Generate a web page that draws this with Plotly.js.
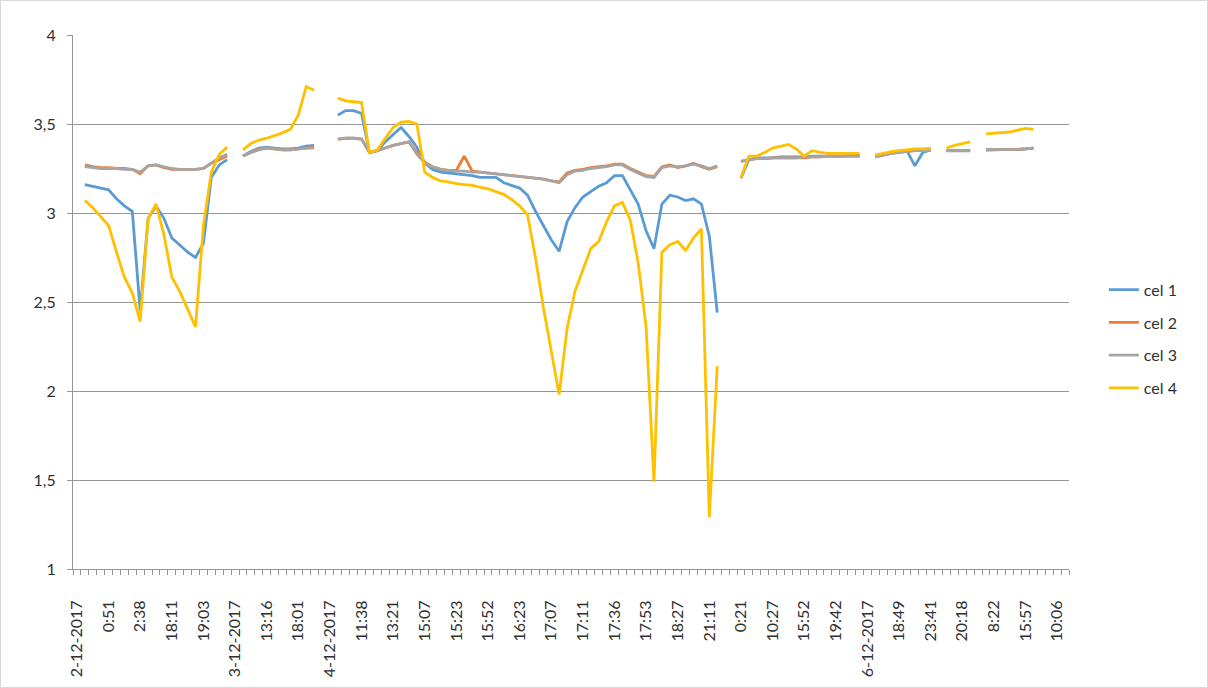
<!DOCTYPE html>
<html>
<head>
<meta charset="utf-8">
<script src="https://cdn.plot.ly/plotly-3.0.1.min.js"></script>
<style>
  html, body { margin:0; padding:0; background:#fff; }
  #wrap { position:relative; width:1208px; height:688px; }
  #chart { width:1208px; height:688px; }
  #frame { position:absolute; left:0; top:0; width:1208px; height:688px; box-sizing:border-box; border:1px solid #d9d9d9; pointer-events:none; }
</style>
</head>
<body>
<div id="wrap"><div id="chart"></div><div id="frame"></div></div>
<script>
// x-axis tick labels (every 4th row of the sheet)
const tickLabels = ['2-12-2017','0:51','2:38','18:11','19:03','3-12-2017','13:16','18:01','4-12-2017','11:38','13:21','15:07','15:23','15:52','16:23','17:07','17:11','17:36','17:53','18:27','21:11','0:21','10:27','15:52','19:42','6-12-2017','18:49','23:41','20:18','8:22','15:57','10:06'];
const labelStep = 4;
const rowCount = 126;

const yTickVals = [1, 1.5, 2, 2.5, 3, 3.5, 4];
const yTickText = ['1', '1,5', '2', '2,5', '3', '3,5', '4'];

const cel1 = [
  null,3.16,3.15,3.14,3.13,3.08,3.04,3.01,2.45,2.97,
  3.04,2.97,2.86,2.82,2.78,2.75,2.83,3.20,3.27,3.30,
  null,3.32,3.345,3.365,3.37,3.365,3.36,3.36,3.365,3.375,
  3.38,null,null,3.55,3.575,3.575,3.56,3.34,3.35,3.40,
  3.44,3.48,3.43,3.37,3.28,3.245,3.23,3.225,3.22,3.215,
  3.21,3.20,3.20,3.20,3.17,3.155,3.14,3.10,3.01,2.93,
  2.85,2.785,2.95,3.03,3.09,3.12,3.15,3.17,3.21,3.21,
  3.13,3.05,2.90,2.80,3.05,3.10,3.09,3.07,3.08,3.05,
  2.87,2.44,null,null,3.195,3.30,3.31,3.31,3.31,3.315,
  3.315,3.315,3.315,3.32,3.32,3.32,3.32,3.32,3.325,3.325,
  null,3.32,3.33,3.34,3.345,3.35,3.265,3.34,3.355,null,
  3.35,3.35,3.35,3.35,null,3.355,3.355,3.355,3.356,3.358,
  3.36,3.365,null,null,null,null
];
const cel2 = [
  null,3.27,3.26,3.255,3.255,3.25,3.25,3.245,3.22,3.265,
  3.27,3.255,3.245,3.245,3.245,3.245,3.25,3.28,3.30,3.32,
  null,3.32,3.34,3.36,3.365,3.36,3.355,3.355,3.36,3.365,
  3.37,null,null,3.415,3.42,3.42,3.415,3.34,3.35,3.365,
  3.38,3.39,3.40,3.34,3.285,3.26,3.245,3.24,3.24,3.32,
  3.235,3.23,3.225,3.22,3.215,3.21,3.205,3.20,3.195,3.19,
  3.18,3.175,3.225,3.24,3.245,3.255,3.26,3.265,3.275,3.275,
  3.25,3.23,3.21,3.205,3.26,3.27,3.255,3.265,3.28,3.26,
  3.245,3.26,null,null,3.29,3.30,3.305,3.305,3.31,3.31,
  3.31,3.31,3.31,3.315,3.315,3.32,3.32,3.32,3.32,3.32,
  null,3.315,3.325,3.335,3.34,3.345,3.35,3.35,3.35,null,
  3.35,3.35,3.35,3.35,null,3.355,3.355,3.355,3.356,3.358,
  3.36,3.365,null,null,null,null
];
const cel3 = [
  null,3.26,3.255,3.25,3.25,3.25,3.245,3.245,3.23,3.265,
  3.27,3.26,3.25,3.245,3.245,3.245,3.25,3.28,3.31,3.33,
  null,3.32,3.34,3.355,3.365,3.36,3.355,3.355,3.36,3.365,
  3.365,null,null,3.415,3.42,3.42,3.415,3.34,3.35,3.365,
  3.38,3.39,3.40,3.33,3.28,3.26,3.245,3.24,3.235,3.235,
  3.23,3.23,3.225,3.22,3.215,3.21,3.205,3.20,3.195,3.19,
  3.18,3.17,3.215,3.235,3.24,3.25,3.255,3.26,3.27,3.27,
  3.245,3.225,3.205,3.20,3.255,3.265,3.26,3.265,3.275,3.265,
  3.25,3.265,null,null,3.29,3.30,3.305,3.305,3.31,3.31,
  3.31,3.31,3.315,3.315,3.315,3.32,3.32,3.32,3.32,3.32,
  null,3.315,3.325,3.335,3.34,3.345,3.35,3.35,3.35,null,
  3.35,3.35,3.35,3.35,null,3.355,3.355,3.355,3.356,3.358,
  3.36,3.365,null,null,null,null
];
const cel4 = [
  null,3.07,3.03,2.98,2.93,2.78,2.64,2.55,2.39,2.97,
  3.05,2.88,2.64,2.56,2.46,2.36,2.93,3.23,3.33,3.37,
  null,3.355,3.39,3.41,3.42,3.435,3.45,3.47,3.55,3.71,
  3.69,null,null,3.645,3.63,3.625,3.62,3.34,3.355,3.42,
  3.48,3.51,3.515,3.50,3.23,3.20,3.18,3.175,3.165,3.16,
  3.155,3.145,3.135,3.12,3.105,3.075,3.04,2.99,2.75,2.47,
  2.22,1.98,2.35,2.56,2.68,2.80,2.84,2.95,3.04,3.06,
  2.96,2.72,2.36,1.49,2.78,2.82,2.84,2.79,2.86,2.91,
  1.29,2.14,null,null,3.20,3.32,3.32,3.34,3.365,3.375,
  3.385,3.36,3.32,3.35,3.34,3.335,3.335,3.335,3.335,3.335,
  null,3.325,3.335,3.345,3.35,3.355,3.36,3.36,3.365,null,
  3.365,3.38,3.39,3.40,null,3.445,3.448,3.45,3.455,3.465,
  3.475,3.47,null,null,null,null
];

const seriesNames = ['cel 1', 'cel 2', 'cel 3', 'cel 4'];
const seriesColors = ['#5B9BD5', '#ED7D31', '#A5A5A5', '#FFC000'];
const seriesData = [cel1, cel2, cel3, cel4];

const rows = Array.from({length: rowCount}, (_, i) => i);
const tickVals = tickLabels.map((_, i) => i * labelStep);

const traces = seriesData.map((vals, k) => ({
  type: 'scatter',
  mode: 'lines',
  name: seriesNames[k],
  legendgroup: 'g' + k,
  x: rows,
  y: vals,
  connectgaps: false,
  line: {color: seriesColors[k], width: 2.8},
  hoverinfo: 'skip'
}));

const axisGray = '#959595';
const textColor = '#303030';
const layout = {
  width: 1208,
  height: 688,
  margin: {l: 73, r: 139, t: 35, b: 119},
  paper_bgcolor: '#ffffff',
  plot_bgcolor: '#ffffff',
  font: {family: 'Lato, "Open Sans", sans-serif', size: 16, color: textColor},
  showlegend: true,
  legend: {
    x: 1.035, xanchor: 'left', y: 0.555, yanchor: 'top',
    traceorder: 'grouped', tracegroupgap: 9,
    font: {size: 16, color: textColor},
    bgcolor: 'rgba(0,0,0,0)', borderwidth: 0
  },
  xaxis: {
    range: [-0.5, rowCount - 0.5],
    tickmode: 'array', tickvals: tickVals, ticktext: tickLabels,
    tickangle: -90, ticks: '', ticklabelstandoff: 24,
    showgrid: false, zeroline: false,
    showline: true, linecolor: axisGray, linewidth: 1,
    tickfont: {size: 16, color: textColor},
    minor: {tickmode: 'linear', tick0: -0.5, dtick: 1, ticks: 'outside', ticklen: 5, tickcolor: axisGray, tickwidth: 1, showgrid: false},
    fixedrange: true
  },
  yaxis: {
    range: [1, 4],
    tickmode: 'array', tickvals: yTickVals, ticktext: yTickText,
    showgrid: true, gridcolor: axisGray, gridwidth: 1,
    zeroline: false, showline: true, linecolor: axisGray, linewidth: 1,
    ticks: 'outside', ticklen: 5, tickcolor: axisGray, ticklabelstandoff: 8,
    tickfont: {size: 16, color: textColor},
    fixedrange: true
  }
};

Plotly.newPlot('chart', traces, layout, {displayModeBar: false, staticPlot: true});
</script>
</body>
</html>
